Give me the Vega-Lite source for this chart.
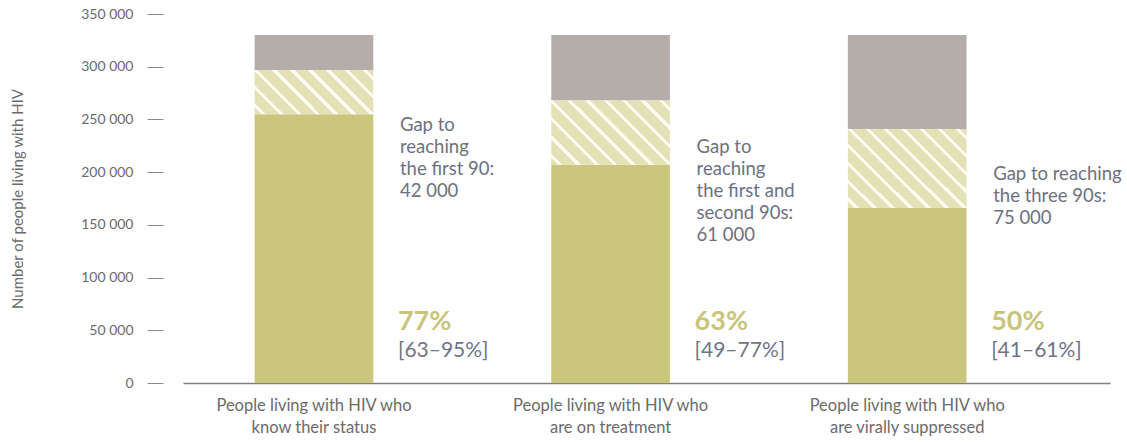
{
  "$schema": "https://vega.github.io/schema/vega-lite/v6.json",
  "width": 927,
  "height": 369,
  "autosize": {"type": "none"},
  "padding": {"left": 183, "top": 14, "right": 17, "bottom": 59},
  "background": "white",
  "config": {
    "view": {"stroke": null},
    "font": "Lato",
    "axis": {"labelFont": "Lato", "titleFont": "Lato"}
  },
  "datasets": {
    "bars": [
      {"category": "People living with HIV who know their status", "segment": "Achieved", "start": 0, "end": 255000},
      {"category": "People living with HIV who know their status", "segment": "Gap", "start": 255000, "end": 297000},
      {"category": "People living with HIV who know their status", "segment": "Remaining", "start": 297000, "end": 330000},
      {"category": "People living with HIV who are on treatment", "segment": "Achieved", "start": 0, "end": 207000},
      {"category": "People living with HIV who are on treatment", "segment": "Gap", "start": 207000, "end": 268000},
      {"category": "People living with HIV who are on treatment", "segment": "Remaining", "start": 268000, "end": 330000},
      {"category": "People living with HIV who are virally suppressed", "segment": "Achieved", "start": 0, "end": 166000},
      {"category": "People living with HIV who are virally suppressed", "segment": "Gap", "start": 166000, "end": 241000},
      {"category": "People living with HIV who are virally suppressed", "segment": "Remaining", "start": 241000, "end": 330000}
    ],
    "labels": [
      {"category": "People living with HIV who know their status", "gap": "Gap to\nreaching\nthe first 90:\n42 000", "gapY": 253700, "pct": "77%", "ci": "[63–95%]"},
      {"category": "People living with HIV who are on treatment", "gap": "Gap to\nreaching\nthe first and\nsecond 90s:\n61 000", "gapY": 232200, "pct": "63%", "ci": "[49–77%]"},
      {"category": "People living with HIV who are virally suppressed", "gap": "Gap to reaching\nthe three 90s:\n75 000", "gapY": 207200, "pct": "50%", "ci": "[41–61%]"}
    ]
  },
  "layer": [
    {
      "data": {"name": "bars"},
      "transform": [{"filter": "datum.segment !== 'Gap'"}],
      "mark": {"type": "bar"},
      "encoding": {
        "x": {
          "field": "category", "type": "nominal", "sort": null,
          "scale": {"paddingInner": 0.6, "paddingOuter": 0.3626, "align": 0.333},
          "axis": {
            "title": null, "labelAngle": 0, "ticks": false,
            "domainColor": "#808080", "domainWidth": 1.5,
            "labelFontSize": 16.5, "labelColor": "#6b6b6b", "labelPadding": 14,
            "labelLineHeight": 22, "labelBaseline": "top", "labelLimit": 400,
            "labelExpr": "[substring(datum.label, 0, 26), substring(datum.label, 27)]"
          }
        },
        "y": {
          "field": "start", "type": "quantitative",
          "scale": {"domain": [0, 350000], "nice": false, "zero": true},
          "axis": {
            "title": "Number of people living with HIV",
            "titleFontSize": 15, "titleColor": "#6b6b6b", "titleFontWeight": "normal",
            "titlePadding": 55,
            "values": [0, 50000, 100000, 150000, 200000, 250000, 300000, 350000],
            "labelExpr": "replace(format(datum.value, ','), ',', ' ')",
            "labelFontSize": 14, "labelColor": "#6b6b6b", "labelPadding": 14,
            "domain": false, "grid": false, "offset": 20,
            "tickSize": 16, "tickColor": "#8a8a8a", "tickWidth": 1
          }
        },
        "y2": {"field": "end"},
        "color": {
          "field": "segment", "type": "nominal",
          "scale": {"domain": ["Achieved", "Remaining"], "range": ["#cbc67e", "#b4adaa"]},
          "legend": null
        }
      }
    },
    {
      "data": {"name": "bars"},
      "transform": [{"filter": "datum.segment === 'Gap' && datum.category === 'People living with HIV who know their status'"}],
      "mark": {
        "type": "bar",
        "fill": {
          "gradient": "linear", "x1": 0, "y1": 1, "x2": 1.2054, "y2": 0.5505,
          "stops": [
            {"offset": 0, "color": "#e4e1b7"},
            {"offset": 0.0422, "color": "#e4e1b7"}, {"offset": 0.0422, "color": "#fdfcf3"}, {"offset": 0.0689, "color": "#fdfcf3"}, {"offset": 0.0689, "color": "#e4e1b7"},
            {"offset": 0.1533, "color": "#e4e1b7"}, {"offset": 0.1533, "color": "#fdfcf3"}, {"offset": 0.18, "color": "#fdfcf3"}, {"offset": 0.18, "color": "#e4e1b7"},
            {"offset": 0.2644, "color": "#e4e1b7"}, {"offset": 0.2644, "color": "#fdfcf3"}, {"offset": 0.2911, "color": "#fdfcf3"}, {"offset": 0.2911, "color": "#e4e1b7"},
            {"offset": 0.3756, "color": "#e4e1b7"}, {"offset": 0.3756, "color": "#fdfcf3"}, {"offset": 0.4022, "color": "#fdfcf3"}, {"offset": 0.4022, "color": "#e4e1b7"},
            {"offset": 0.4867, "color": "#e4e1b7"}, {"offset": 0.4867, "color": "#fdfcf3"}, {"offset": 0.5133, "color": "#fdfcf3"}, {"offset": 0.5133, "color": "#e4e1b7"},
            {"offset": 0.5978, "color": "#e4e1b7"}, {"offset": 0.5978, "color": "#fdfcf3"}, {"offset": 0.6244, "color": "#fdfcf3"}, {"offset": 0.6244, "color": "#e4e1b7"},
            {"offset": 0.7089, "color": "#e4e1b7"}, {"offset": 0.7089, "color": "#fdfcf3"}, {"offset": 0.7356, "color": "#fdfcf3"}, {"offset": 0.7356, "color": "#e4e1b7"},
            {"offset": 0.82, "color": "#e4e1b7"}, {"offset": 0.82, "color": "#fdfcf3"}, {"offset": 0.8467, "color": "#fdfcf3"}, {"offset": 0.8467, "color": "#e4e1b7"},
            {"offset": 0.9311, "color": "#e4e1b7"}, {"offset": 0.9311, "color": "#fdfcf3"}, {"offset": 0.9578, "color": "#fdfcf3"}, {"offset": 0.9578, "color": "#e4e1b7"},
            {"offset": 1, "color": "#e4e1b7"}
          ]
        }
      },
      "encoding": {
        "x": {"field": "category", "type": "nominal", "sort": null},
        "y": {"field": "start", "type": "quantitative"},
        "y2": {"field": "end"}
      }
    },
    {
      "data": {"name": "bars"},
      "transform": [{"filter": "datum.segment === 'Gap' && datum.category === 'People living with HIV who are on treatment'"}],
      "mark": {
        "type": "bar",
        "fill": {
          "gradient": "linear", "x1": 0, "y1": 1, "x2": 1.1918, "y2": 0.3536,
          "stops": [
            {"offset": 0, "color": "#e4e1b7"},
            {"offset": 0.038, "color": "#e4e1b7"}, {"offset": 0.038, "color": "#fdfcf3"}, {"offset": 0.062, "color": "#fdfcf3"}, {"offset": 0.062, "color": "#e4e1b7"},
            {"offset": 0.138, "color": "#e4e1b7"}, {"offset": 0.138, "color": "#fdfcf3"}, {"offset": 0.162, "color": "#fdfcf3"}, {"offset": 0.162, "color": "#e4e1b7"},
            {"offset": 0.238, "color": "#e4e1b7"}, {"offset": 0.238, "color": "#fdfcf3"}, {"offset": 0.262, "color": "#fdfcf3"}, {"offset": 0.262, "color": "#e4e1b7"},
            {"offset": 0.338, "color": "#e4e1b7"}, {"offset": 0.338, "color": "#fdfcf3"}, {"offset": 0.362, "color": "#fdfcf3"}, {"offset": 0.362, "color": "#e4e1b7"},
            {"offset": 0.438, "color": "#e4e1b7"}, {"offset": 0.438, "color": "#fdfcf3"}, {"offset": 0.462, "color": "#fdfcf3"}, {"offset": 0.462, "color": "#e4e1b7"},
            {"offset": 0.538, "color": "#e4e1b7"}, {"offset": 0.538, "color": "#fdfcf3"}, {"offset": 0.562, "color": "#fdfcf3"}, {"offset": 0.562, "color": "#e4e1b7"},
            {"offset": 0.638, "color": "#e4e1b7"}, {"offset": 0.638, "color": "#fdfcf3"}, {"offset": 0.662, "color": "#fdfcf3"}, {"offset": 0.662, "color": "#e4e1b7"},
            {"offset": 0.738, "color": "#e4e1b7"}, {"offset": 0.738, "color": "#fdfcf3"}, {"offset": 0.762, "color": "#fdfcf3"}, {"offset": 0.762, "color": "#e4e1b7"},
            {"offset": 0.838, "color": "#e4e1b7"}, {"offset": 0.838, "color": "#fdfcf3"}, {"offset": 0.862, "color": "#fdfcf3"}, {"offset": 0.862, "color": "#e4e1b7"},
            {"offset": 0.938, "color": "#e4e1b7"}, {"offset": 0.938, "color": "#fdfcf3"}, {"offset": 0.962, "color": "#fdfcf3"}, {"offset": 0.962, "color": "#e4e1b7"},
            {"offset": 1, "color": "#e4e1b7"}
          ]
        }
      },
      "encoding": {
        "x": {"field": "category", "type": "nominal", "sort": null},
        "y": {"field": "start", "type": "quantitative"},
        "y2": {"field": "end"}
      }
    },
    {
      "data": {"name": "bars"},
      "transform": [{"filter": "datum.segment === 'Gap' && datum.category === 'People living with HIV who are virally suppressed'"}],
      "mark": {
        "type": "bar",
        "fill": {
          "gradient": "linear", "x1": 0, "y1": 1, "x2": 1.1528, "y2": 0.2282,
          "stops": [
            {"offset": 0, "color": "#e4e1b7"},
            {"offset": 0.0345, "color": "#e4e1b7"}, {"offset": 0.0345, "color": "#fdfcf3"}, {"offset": 0.0564, "color": "#fdfcf3"}, {"offset": 0.0564, "color": "#e4e1b7"},
            {"offset": 0.1255, "color": "#e4e1b7"}, {"offset": 0.1255, "color": "#fdfcf3"}, {"offset": 0.1473, "color": "#fdfcf3"}, {"offset": 0.1473, "color": "#e4e1b7"},
            {"offset": 0.2164, "color": "#e4e1b7"}, {"offset": 0.2164, "color": "#fdfcf3"}, {"offset": 0.2382, "color": "#fdfcf3"}, {"offset": 0.2382, "color": "#e4e1b7"},
            {"offset": 0.3073, "color": "#e4e1b7"}, {"offset": 0.3073, "color": "#fdfcf3"}, {"offset": 0.3291, "color": "#fdfcf3"}, {"offset": 0.3291, "color": "#e4e1b7"},
            {"offset": 0.3982, "color": "#e4e1b7"}, {"offset": 0.3982, "color": "#fdfcf3"}, {"offset": 0.42, "color": "#fdfcf3"}, {"offset": 0.42, "color": "#e4e1b7"},
            {"offset": 0.4891, "color": "#e4e1b7"}, {"offset": 0.4891, "color": "#fdfcf3"}, {"offset": 0.5109, "color": "#fdfcf3"}, {"offset": 0.5109, "color": "#e4e1b7"},
            {"offset": 0.58, "color": "#e4e1b7"}, {"offset": 0.58, "color": "#fdfcf3"}, {"offset": 0.6018, "color": "#fdfcf3"}, {"offset": 0.6018, "color": "#e4e1b7"},
            {"offset": 0.6709, "color": "#e4e1b7"}, {"offset": 0.6709, "color": "#fdfcf3"}, {"offset": 0.6927, "color": "#fdfcf3"}, {"offset": 0.6927, "color": "#e4e1b7"},
            {"offset": 0.7618, "color": "#e4e1b7"}, {"offset": 0.7618, "color": "#fdfcf3"}, {"offset": 0.7836, "color": "#fdfcf3"}, {"offset": 0.7836, "color": "#e4e1b7"},
            {"offset": 0.8527, "color": "#e4e1b7"}, {"offset": 0.8527, "color": "#fdfcf3"}, {"offset": 0.8745, "color": "#fdfcf3"}, {"offset": 0.8745, "color": "#e4e1b7"},
            {"offset": 0.9436, "color": "#e4e1b7"}, {"offset": 0.9436, "color": "#fdfcf3"}, {"offset": 0.9655, "color": "#fdfcf3"}, {"offset": 0.9655, "color": "#e4e1b7"},
            {"offset": 1, "color": "#e4e1b7"}
          ]
        }
      },
      "encoding": {
        "x": {"field": "category", "type": "nominal", "sort": null},
        "y": {"field": "start", "type": "quantitative"},
        "y2": {"field": "end"}
      }
    },
    {
      "data": {"name": "labels"},
      "mark": {"type": "text", "align": "left", "baseline": "top", "dx": 86, "fontSize": 18.5, "lineHeight": 22, "lineBreak": "\n", "color": "#6d7080", "font": "Lato"},
      "encoding": {
        "x": {"field": "category", "type": "nominal", "sort": null},
        "y": {"field": "gapY", "type": "quantitative"},
        "text": {"field": "gap"}
      }
    },
    {
      "data": {"name": "labels"},
      "mark": {"type": "text", "align": "left", "baseline": "middle", "dx": 84, "fontSize": 27, "fontWeight": "bold", "color": "#c9c47b", "font": "Lato"},
      "encoding": {
        "x": {"field": "category", "type": "nominal", "sort": null},
        "y": {"datum": 57900, "type": "quantitative"},
        "text": {"field": "pct"}
      }
    },
    {
      "data": {"name": "labels"},
      "mark": {"type": "text", "align": "left", "baseline": "middle", "dx": 84, "fontSize": 21, "color": "#6f7488", "font": "Lato"},
      "encoding": {
        "x": {"field": "category", "type": "nominal", "sort": null},
        "y": {"datum": 30300, "type": "quantitative"},
        "text": {"field": "ci"}
      }
    }
  ]
}
